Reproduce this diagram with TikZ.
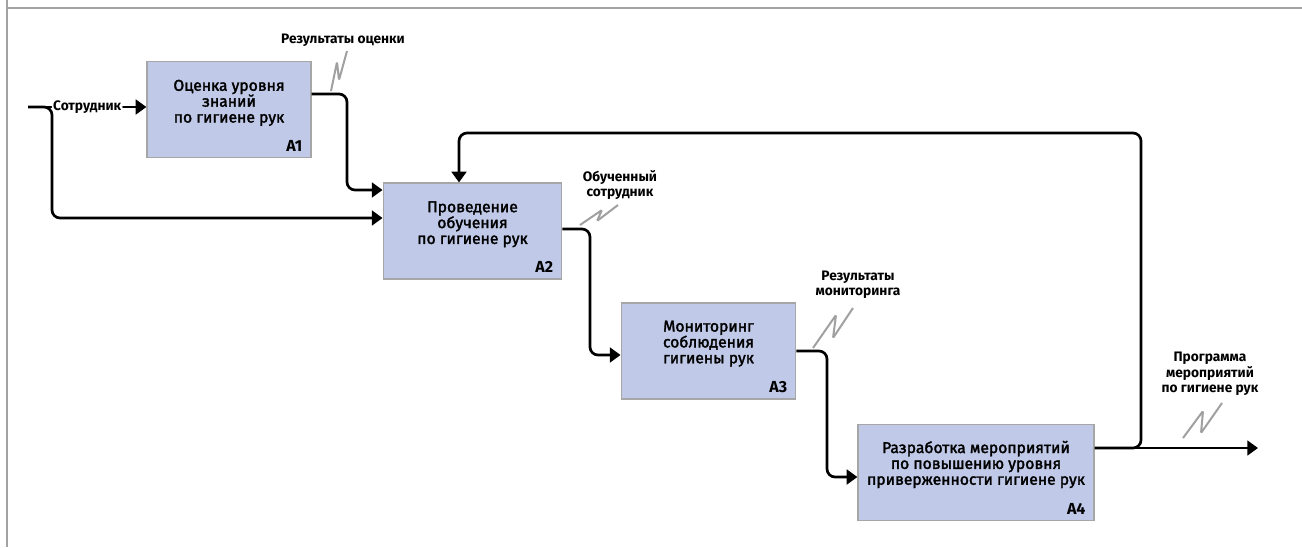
\documentclass[tikz,border=0pt]{standalone}
\usepackage{fontspec}
\setmainfont{Fira Sans}
\newfontfamily\medfont{Fira Sans}[FakeBold=2]
\usetikzlibrary{arrows.meta,calc}
\definecolor{boxfill}{HTML}{C0CAE8}
\definecolor{boxline}{HTML}{A6A6A6}
\definecolor{framegray}{HTML}{A3A3A3}
\definecolor{squiggray}{HTML}{A0A0A0}
\begin{document}
\begin{tikzpicture}[x=0.75pt,y=-0.75pt,
	proc/.style={draw=boxline,line width=0.9pt,fill=boxfill,inner sep=0pt},
	proctext/.style={align=center,font=\medfont\fontsize{11.75}{11.9}\selectfont},
	procid/.style={anchor=south east,inner sep=0pt,font=\bfseries\fontsize{12}{12}\selectfont},
	flow/.style={line width=2pt,rounded corners=6pt,-{Triangle[length=8pt,width=11pt]}},
	arrowlbl/.style={align=center,font=\bfseries\fontsize{10.3}{11.6}\selectfont,inner sep=1pt},
	squig/.style={draw=squiggray,line width=1.5pt,rounded corners=1pt},
	frameline/.style={draw=framegray,line width=2.2pt}]
	\useasboundingbox (0,0) rectangle (1302,547);
	\draw[frameline] (7,0) -- (7,547);
	\draw[frameline] (7,8) -- (1302,8);
	% blocks
	\node[proc,minimum width=123pt,minimum height=72pt] (a1) at (229,109.5) {};
	\node[proc,minimum width=134pt,minimum height=72pt] (a2) at (472.5,231) {};
	\node[proc,minimum width=131pt,minimum height=72pt] (a3) at (708.5,351) {};
	\node[proc,minimum width=177pt,minimum height=72.5pt] (a4) at (976,472.5) {};
	\node[proctext] (a1txt) at ([yshift=5pt]a1.center) {Оценка уровня\\знаний\\по гигиене рук};
	\node[proctext] (a2txt) at ([yshift=5pt]a2.center) {Проведение\\обучения\\по гигиене рук};
	\node[proctext] (a3txt) at ([yshift=5.5pt]a3.center) {Мониторинг\\соблюдения\\гигиены рук};
	\node[proctext] (a4txt) at ([yshift=6pt]a4.center) {Разработка мероприятий\\по повышению уровня\\приверженности гигиене рук};
	\foreach \b/\t in {a1/A1,a2/A2,a3/A3,a4/A4}
	\node[procid] (\b id) at ([xshift=-6.75pt,yshift=5pt]\b.south east) {\t};
	% arrows
	\coordinate (src) at (28,107);
	\coordinate (fbturn) at (1141,448);
	\coordinate (a4res) at (1258,448);
	\draw[flow] (src) -- node[arrowlbl,fill=white] (lblsrc) {Сотрудник} (src -| a1.west);
	\draw[flow] (src) -- (52,107) -- (52,218) -- (a2.west |- 0,218);
	\draw[flow] (a1.east |- 0,94) -- (347,94) -- (347,190) -- (a2.west |- 0,190);
	\draw[flow] (a2.east |- 0,229) -- (590,229) -- (590,355) -- (a3.west |- 0,355);
	\draw[flow] (a3.east |- 0,351) -- (827,351) -- (827,477) -- (a4.west |- 0,477);
	\draw[flow] (a4.east |- fbturn) -- (a4res);
	\draw[flow] (a4.east |- fbturn) -- (fbturn) -- (1141,133) -- (459,133) -- (a2.north -| 459,0);
	% labels
	\node[arrowlbl] (lblres) at (343,40) {Результаты оценки};
	\node[arrowlbl] (lbltrained) at (620,185) {Обученный\\сотрудник};
	\node[arrowlbl] (lblmon) at (858,285) {Результаты\\мониторинга};
	\node[arrowlbl] (lblprog) at (1210,374) {Программа\\мероприятий\\по гигиене рук};
	\draw[squig] (331,91) -- (337,62) -- (339,80) -- (347,51);
	\draw[squig] (580,225) -- (602,210) -- (597,221) -- (618,205);
	\draw[squig] (813,348) -- (836,315) -- (833,338) -- (853,308);
	\draw[squig] (1183,438) -- (1203,411) -- (1201,433) -- (1222,403);
\end{tikzpicture}
\end{document}
